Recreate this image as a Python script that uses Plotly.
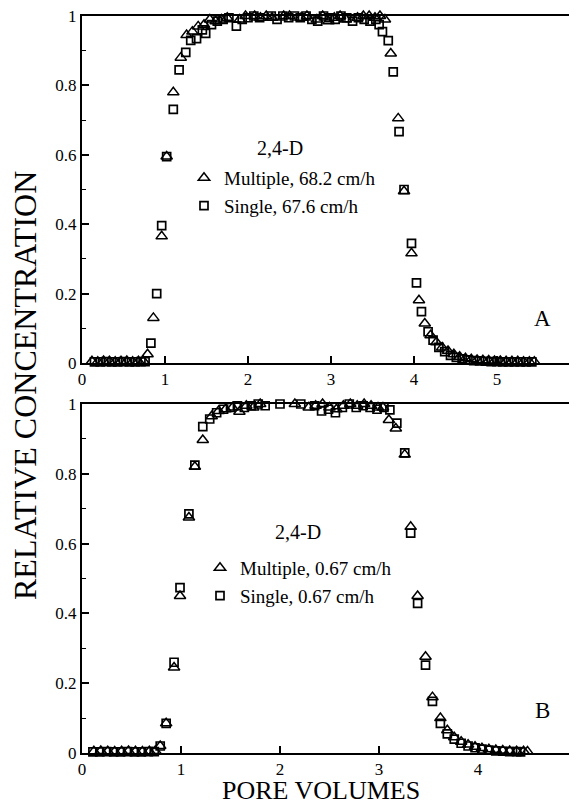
import plotly.graph_objects as go

# ---------------- Data ----------------
# Panel A : 2,4-D, fast flow
a_multi_x = [0.12, 0.19, 0.26, 0.33, 0.40, 0.47, 0.54, 0.61, 0.68, 0.74, 0.79, 0.86, 0.96, 1.02,
             1.10, 1.19, 1.26, 1.33, 1.40, 1.47, 1.54, 1.61, 1.68, 1.75, 1.83, 1.90, 1.97, 2.01,
             2.08, 2.15, 2.22, 2.29, 2.36, 2.43, 2.50, 2.57, 2.64, 2.71, 2.76, 2.83, 2.90, 2.97,
             3.04, 3.11, 3.18, 3.25, 3.32, 3.39, 3.46, 3.53, 3.59, 3.65, 3.72, 3.81, 3.88, 3.97,
             4.06, 4.13, 4.20, 4.27, 4.34, 4.41, 4.48, 4.55, 4.62, 4.69, 4.76, 4.83, 4.90, 4.97,
             5.04, 5.11, 5.18, 5.25, 5.32, 5.39, 5.45]
a_multi_y = [0.005, 0.004, 0.006, 0.005, 0.004, 0.005, 0.006, 0.004, 0.005, 0.006, 0.025, 0.13, 0.365, 0.595,
             0.78, 0.88, 0.945, 0.955, 0.97, 0.975, 0.99, 0.985, 0.99, 0.995, 1.008, 0.99, 1.0, 1.025,
             1.0, 0.995, 1.0, 0.995, 1.005, 1.0, 1.0, 1.005, 0.995, 1.0, 1.012, 0.99, 1.0, 0.985,
             0.995, 1.0, 0.99, 1.005, 0.995, 1.0, 1.0, 0.995, 1.0, 0.99, 0.892, 0.705, 0.495, 0.316,
             0.181, 0.114, 0.08, 0.06, 0.045, 0.035, 0.025, 0.018, 0.014, 0.011, 0.009, 0.008, 0.007, 0.006,
             0.006, 0.005, 0.005, 0.005, 0.004, 0.004, 0.004]

a_single_x = [0.15, 0.22, 0.29, 0.36, 0.43, 0.50, 0.57, 0.64, 0.71, 0.76, 0.83, 0.90, 0.96, 1.02,
              1.10, 1.17, 1.25, 1.31, 1.38, 1.45, 1.49, 1.56, 1.63, 1.70, 1.77, 1.86, 1.93, 2.00,
              2.07, 2.14, 2.21, 2.28, 2.35, 2.42, 2.49, 2.56, 2.63, 2.70, 2.77, 2.84, 2.91, 2.98,
              3.05, 3.12, 3.19, 3.26, 3.33, 3.40, 3.47, 3.54, 3.58, 3.62, 3.69, 3.75, 3.82, 3.88,
              3.97, 4.03, 4.09, 4.17, 4.23, 4.30, 4.37, 4.44, 4.51, 4.58, 4.65, 4.72, 4.79, 4.86,
              4.93, 5.00, 5.07, 5.14, 5.21, 5.28, 5.35, 5.42]
a_single_y = [0.003, 0.003, 0.004, 0.003, 0.003, 0.004, 0.003, 0.003, 0.004, 0.004, 0.057, 0.20, 0.396, 0.595,
              0.731, 0.845, 0.895, 0.93, 0.935, 0.96, 0.95, 0.975, 0.985, 0.99, 0.995, 0.971, 0.99, 0.995,
              1.0, 0.995, 1.005, 1.0, 0.99, 1.0, 0.995, 1.0, 0.995, 1.0, 0.99, 0.985, 1.0, 0.995,
              0.99, 1.0, 0.995, 0.985, 0.995, 0.99, 0.985, 0.99, 0.975, 0.955, 0.929, 0.839, 0.667, 0.50,
              0.345, 0.231, 0.148, 0.09, 0.066, 0.045, 0.033, 0.022, 0.016, 0.012, 0.009, 0.007, 0.006, 0.005,
              0.004, 0.004, 0.003, 0.003, 0.003, 0.003, 0.003, 0.003]

# Panel B : 2,4-D, slow flow
b_multi_x = [0.12, 0.19, 0.26, 0.33, 0.40, 0.47, 0.54, 0.61, 0.68, 0.74, 0.79, 0.85, 0.93, 0.99,
             1.08, 1.14, 1.22, 1.31, 1.38, 1.45, 1.52, 1.59, 1.66, 1.73, 1.80, 1.87, 1.94, 2.01,
             2.08, 2.15, 2.22, 2.29, 2.36, 2.43, 2.50, 2.57, 2.64, 2.71, 2.78, 2.85, 2.92, 2.99,
             3.04, 3.10, 3.17, 3.26, 3.32, 3.39, 3.47, 3.54, 3.62, 3.69, 3.76, 3.83, 3.90, 3.97,
             4.04, 4.11, 4.18, 4.25, 4.32, 4.39, 4.46, 4.50]
b_multi_y = [0.005, 0.006, 0.005, 0.004, 0.005, 0.006, 0.005, 0.004, 0.005, 0.006, 0.02, 0.085, 0.245, 0.45,
             0.675, 0.82, 0.897, 0.965, 0.98, 0.985, 0.99, 0.978, 0.995, 0.99, 1.0, 1.005, 1.01, 1.01,
             1.005, 1.0, 1.005, 0.99, 0.995, 1.0, 0.99, 0.985, 0.995, 1.0, 0.995, 1.0, 0.995, 0.99,
             0.99, 0.954, 0.93, 0.855, 0.648, 0.45, 0.276, 0.16, 0.10, 0.065, 0.045, 0.032, 0.024, 0.018,
             0.014, 0.011, 0.009, 0.007, 0.006, 0.005, 0.005, 0.004]

b_single_x = [0.11, 0.18, 0.25, 0.32, 0.39, 0.46, 0.53, 0.60, 0.67, 0.73, 0.79, 0.85, 0.93, 0.99,
              1.08, 1.14, 1.22, 1.29, 1.36, 1.43, 1.50, 1.57, 1.64, 1.71, 1.78, 1.85, 1.93, 2.00,
              2.07, 2.14, 2.21, 2.28, 2.35, 2.42, 2.49, 2.56, 2.63, 2.70, 2.77, 2.84, 2.91, 2.98,
              3.05, 3.11, 3.18, 3.26, 3.32, 3.39, 3.47, 3.54, 3.62, 3.69, 3.76, 3.83, 3.90, 3.97,
              4.04, 4.11, 4.18, 4.25, 4.32, 4.39, 4.43]
b_single_y = [0.003, 0.003, 0.004, 0.003, 0.003, 0.004, 0.003, 0.003, 0.004, 0.004, 0.02, 0.085, 0.26, 0.474,
              0.685, 0.825, 0.935, 0.957, 0.975, 0.985, 0.99, 0.995, 0.99, 0.995, 1.0, 0.995, 1.005, 1.0,
              1.01, 1.005, 1.0, 1.005, 0.995, 0.98, 0.985, 0.975, 0.99, 1.0, 0.99, 0.995, 0.99, 0.985,
              0.99, 0.983, 0.945, 0.86, 0.63, 0.429, 0.252, 0.148, 0.085, 0.055, 0.04, 0.028, 0.02, 0.015,
              0.011, 0.008, 0.006, 0.005, 0.004, 0.004, 0.003]

y_ticks = [0, 0.2, 0.4, 0.6, 0.8, 1]
y_tick_text = ["0", "0.2", "0.4", "0.6", "0.8", "1"]
x_ticks_a = [0, 1, 2, 3, 4, 5, 6]
x_ticks_b = [0, 1, 2, 3, 4, 5]

# ---------------- Figure ----------------
FONT = "Liberation Serif, Times New Roman, serif"
OFF = 8                      # the page body margin shifts the figure by 8 px
W, H = 577 - OFF, 806 - OFF  # figure size so that it ends exactly at the window edge
L = 82 - OFF                 # left edge of the plot area (page x = 82)

def py(page_y):
    """page pixel y -> paper fraction"""
    return 1 - (page_y - OFF) / H

def px(page_x):
    """page pixel x -> paper fraction"""
    return (page_x - OFF - L) / (W - L)

tri = dict(symbol="triangle-up-open", size=10, color="black", line=dict(width=1.5, color="black"))
sq = dict(symbol="square-open", size=8, color="black", line=dict(width=1.7, color="black"))

fig = go.Figure()
fig.add_trace(go.Scatter(x=a_multi_x, y=a_multi_y, mode="markers", marker=tri,
                         name="Multiple, 68.2 cm/h", xaxis="x", yaxis="y", legend="legend",
                         cliponaxis=False))
fig.add_trace(go.Scatter(x=a_single_x, y=a_single_y, mode="markers", marker=sq,
                         name="Single, 67.6 cm/h", xaxis="x", yaxis="y", legend="legend",
                         cliponaxis=False))
fig.add_trace(go.Scatter(x=b_multi_x, y=b_multi_y, mode="markers", marker=tri,
                         name="Multiple, 0.67 cm/h", xaxis="x2", yaxis="y2", legend="legend2",
                         cliponaxis=False))
fig.add_trace(go.Scatter(x=b_single_x, y=b_single_y, mode="markers", marker=sq,
                         name="Single, 0.67 cm/h", xaxis="x2", yaxis="y2", legend="legend2",
                         cliponaxis=False))

axis_common = dict(showline=True, linecolor="black", linewidth=2, showgrid=False, zeroline=False,
                   ticks="inside", tickcolor="black", tickwidth=1.5, ticklabeloverflow="allow",
                   tickfont=dict(family=FONT, size=17, color="black"))

x_a = dict(axis_common, domain=[0, 1], range=[0, 5.964], tickvals=x_ticks_a,
           ticktext=[str(v) for v in x_ticks_a], ticklen=7, mirror=True, anchor="y")
y_a = dict(axis_common, domain=[py(363), py(16)], range=[0, 1],
           tickvals=y_ticks, ticktext=y_tick_text, ticklen=7, anchor="x",
           minor=dict(dtick=0.1, ticks="inside", ticklen=4, tickcolor="black", tickwidth=1.2))
x_b = dict(axis_common, domain=[0, 1], range=[0, 5], tickvals=x_ticks_b,
           ticktext=[str(v) for v in x_ticks_b], ticklen=7, mirror=True, anchor="y2")
y_b = dict(axis_common, domain=[py(753), py(404)], range=[0, 1],
           tickvals=y_ticks, ticktext=y_tick_text, ticklen=7, anchor="x2", mirror=True,
           minor=dict(dtick=0.1, ticks="inside", ticklen=4, tickcolor="black", tickwidth=1.2))

legend_common = dict(font=dict(family=FONT, size=19, color="black"), bgcolor="rgba(0,0,0,0)",
                     borderwidth=0, xanchor="left", yanchor="top")

fig.update_layout(
    width=W, height=H,
    margin=dict(l=L, r=0, t=0, b=0, pad=0, autoexpand=False),
    paper_bgcolor="white", plot_bgcolor="white",
    font=dict(family=FONT, color="black"),
    xaxis=x_a, yaxis=y_a, xaxis2=x_b, yaxis2=y_b,
    legend=dict(legend_common, x=px(184), y=py(159)),
    legend2=dict(legend_common, x=px(200), y=py(549)),
    showlegend=True,
)

fig.add_annotation(text="2,4-D", xref="paper", yref="paper", x=px(280), y=py(148),
                   showarrow=False, font=dict(family=FONT, size=20, color="black"),
                   xanchor="center", yanchor="middle")
fig.add_annotation(text="2,4-D", xref="paper", yref="paper", x=px(298), y=py(532),
                   showarrow=False, font=dict(family=FONT, size=20, color="black"),
                   xanchor="center", yanchor="middle")
fig.add_annotation(text="RELATIVE CONCENTRATION", xref="paper", yref="paper",
                   x=px(25), y=py(386), textangle=-90, showarrow=False,
                   font=dict(family=FONT, size=32, color="black"), xanchor="center", yanchor="middle")
fig.add_annotation(text="PORE VOLUMES", xref="paper", yref="paper",
                   x=px(321), y=py(790), showarrow=False,
                   font=dict(family=FONT, size=26, color="black"), xanchor="center", yanchor="middle")
fig.add_annotation(text="A", xref="paper", yref="paper",
                   x=px(542), y=py(318), showarrow=False,
                   font=dict(family=FONT, size=23, color="black"), xanchor="center", yanchor="middle")
fig.add_annotation(text="B", xref="paper", yref="paper",
                   x=px(542), y=py(710), showarrow=False,
                   font=dict(family=FONT, size=23, color="black"), xanchor="center", yanchor="middle")

fig.write_html("out.html")
